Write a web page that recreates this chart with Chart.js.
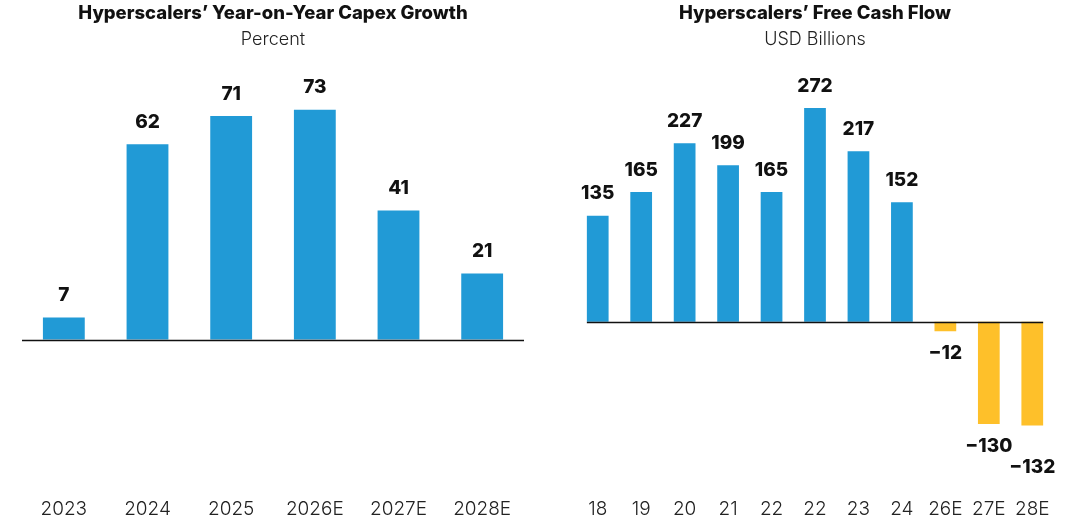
<!DOCTYPE html>
<html>
<head>
<meta charset="utf-8">
<script src="https://cdn.jsdelivr.net/npm/chart.js@4.4.1/dist/chart.umd.min.js"></script>
<style>
  body { margin: 0; background: #fff; width: 1080px; height: 521px; overflow: hidden; position: relative; }
  canvas { position: absolute; top: 0; }
</style>
</head>
<body>
<canvas id="capex" width="526" height="533" style="left:0"></canvas>
<canvas id="fcf" width="520" height="533" style="left:560px"></canvas>
<script>
// left panel: year-on-year capex growth (%)
const capexYears = ['2023', '2024', '2025', '2026E', '2027E', '2028E'];
const capexGrowth = [7, 62, 71, 73, 41, 21];

// right panel: free cash flow (USD bn)
const fcfYears = ['18', '19', '20', '21', '22', '22', '23', '24', '26E', '27E', '28E'];
const fcfValues = [135, 165, 227, 199, 165, 272, 217, 152, -12, -130, -132];

const BLUE = '#219ad6';
const YELLOW = '#fec02a';
const FONT = 'Inter, "Liberation Sans", sans-serif';

const fmt = v => (v < 0 ? '\u2212' + Math.abs(v) : String(v));

// value labels above / below each bar
const valueLabels = {
    id: 'valueLabels',
    afterDatasetsDraw(chart, args, opts) {
        const ctx = chart.ctx;
        const data = chart.data.datasets[0].data;
        const drop = opts.drop || {};
        ctx.save();
        ctx.font = '800 19px ' + FONT;
        ctx.fillStyle = '#111';
        ctx.textAlign = 'center';
        ctx.textBaseline = 'middle';
        chart.getDatasetMeta(0).data.forEach((bar, i) => {
            const v = data[i];
            const y = v < 0 ? bar.y + 22 + (drop[i] || 0) : bar.y - 22;
            ctx.fillText(fmt(v), bar.x, y);
        });
        ctx.restore();
    }
};

// black zero line
const zeroLine = {
    id: 'zeroLine',
    afterDatasetsDraw(chart, args, opts) {
        const ctx = chart.ctx;
        const y = Math.round(chart.scales.y.getPixelForValue(0)) + 0.5;
        let x0 = chart.chartArea.left, x1 = chart.chartArea.right;
        if (opts.bars) {
            const bars = chart.getDatasetMeta(0).data;
            x0 = bars[0].x - bars[0].width / 2;
            x1 = bars[bars.length - 1].x + bars[bars.length - 1].width / 2;
        }
        ctx.save();
        ctx.strokeStyle = '#111';
        ctx.lineWidth = 1.3;
        ctx.beginPath();
        ctx.moveTo(x0, y);
        ctx.lineTo(x1, y);
        ctx.stroke();
        ctx.restore();
    }
};

function makeChart(id, labels, values, title, subtitle, yMin, yMax, pad, extra) {
    return new Chart(document.getElementById(id), {
        type: 'bar',
        data: {
            labels: labels,
            datasets: [{
                data: values,
                backgroundColor: values.map(v => (v < 0 ? YELLOW : BLUE)),
                barPercentage: 0.5,
                categoryPercentage: 1.0
            }]
        },
        options: {
            responsive: false,
            animation: false,
            layout: { padding: pad },
            plugins: {
                legend: { display: false },
                tooltip: { enabled: false },
                title: {
                    display: true,
                    text: title,
                    color: '#111',
                    font: { family: FONT, size: 18.5, weight: '800' },
                    padding: { top: 2, bottom: 5 }
                },
                subtitle: {
                    display: true,
                    text: subtitle,
                    color: '#222',
                    font: { family: FONT, size: 18, weight: '300' },
                    padding: { top: 0, bottom: 10 }
                },
                valueLabels: extra.labels || {},
                zeroLine: extra.line || {}
            },
            scales: {
                x: {
                    grid: { display: false, drawTicks: false },
                    border: { display: false },
                    ticks: {
                        color: '#222',
                        font: { family: FONT, size: 19, weight: '300' },
                        padding: 9,
                        maxRotation: 0,
                        autoSkip: false
                    }
                },
                y: {
                    display: false,
                    min: yMin,
                    max: yMax
                }
            }
        },
        plugins: [valueLabels, zeroLine]
    });
}

makeChart('capex', capexYears, capexGrowth,
    'Hyperscalers\u2019 Year-on-Year Capex Growth', 'Percent',
    -47.5, 88.5, { left: 22, right: 2, top: 0, bottom: 3 }, {});

makeChart('fcf', fcfYears, fcfValues,
    'Hyperscalers\u2019 Free Cash Flow', 'USD Billions',
    -213, 332, { left: 16, right: 26, top: 0, bottom: 3 },
    { labels: { drop: { 10: 20 } }, line: { bars: true } });
</script>
</body>
</html>
